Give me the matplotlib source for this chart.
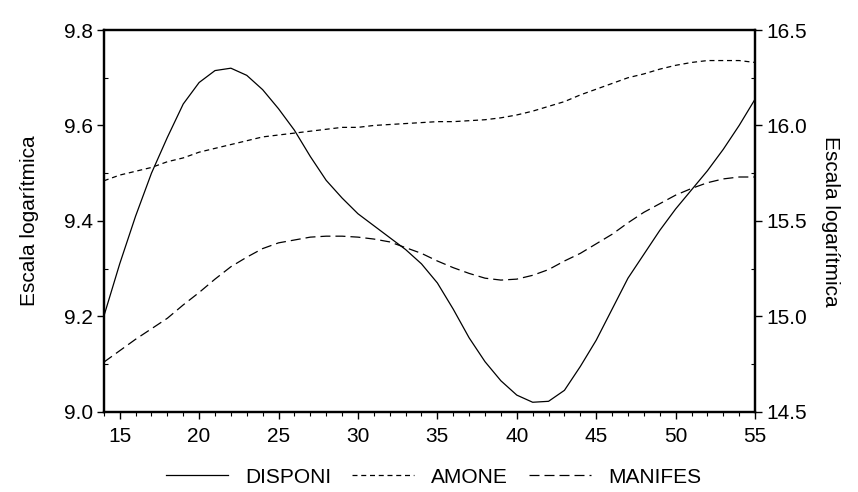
import matplotlib
matplotlib.use("Agg")
import matplotlib.pyplot as plt
from matplotlib.ticker import MultipleLocator

plt.rcParams['font.family'] = ['Liberation Sans', 'DejaVu Sans']

# edades (eje x)
edad = list(range(14, 56))

# DISPONI, eje izquierdo
disponi = [9.20, 9.31, 9.41, 9.50, 9.575, 9.645, 9.69, 9.715, 9.72, 9.705,
           9.675, 9.635, 9.59, 9.535, 9.485, 9.448, 9.415, 9.39, 9.365, 9.34,
           9.31, 9.27, 9.215, 9.155, 9.105, 9.065, 9.035, 9.02, 9.022, 9.045,
           9.095, 9.15, 9.215, 9.28, 9.33, 9.38, 9.425, 9.465, 9.505, 9.55,
           9.60, 9.655]

# AMONE, eje derecho
amone = [15.71, 15.74, 15.76, 15.78, 15.81, 15.83, 15.86, 15.88, 15.90, 15.92,
         15.94, 15.95, 15.96, 15.97, 15.98, 15.99, 15.99, 16.00, 16.005, 16.01,
         16.015, 16.02, 16.02, 16.025, 16.03, 16.04, 16.055, 16.075, 16.10, 16.125,
         16.16, 16.19, 16.22, 16.25, 16.27, 16.295, 16.315, 16.33, 16.34, 16.34,
         16.34, 16.33]

# MANIFES, eje derecho
manifes = [14.76, 14.82, 14.88, 14.935, 14.99, 15.06, 15.125, 15.195, 15.26, 15.31,
           15.355, 15.385, 15.40, 15.415, 15.42, 15.42, 15.415, 15.405, 15.39, 15.36,
           15.33, 15.29, 15.255, 15.225, 15.20, 15.19, 15.195, 15.215, 15.245, 15.29,
           15.33, 15.38, 15.43, 15.49, 15.545, 15.59, 15.635, 15.67, 15.70, 15.72,
           15.73, 15.73]

fs = 15

fig = plt.figure(figsize=(8.58, 4.92), dpi=100)
ax = fig.add_axes([0.121, 0.163, 0.759, 0.776])
ax2 = ax.twinx()

l1, = ax.plot(edad, disponi, color='black', lw=0.9, label='DISPONI')
l2, = ax2.plot(edad, amone, color='black', lw=0.9, linestyle=(0, (4, 3)), label='AMONE')
l3, = ax2.plot(edad, manifes, color='black', lw=0.9, linestyle=(0, (8, 4)), label='MANIFES')

ax.set_xlim(14, 55)
ax.set_ylim(9.0, 9.8)
ax2.set_ylim(14.5, 16.5)

ax.set_xticks([15, 20, 25, 30, 35, 40, 45, 50, 55])
ax.xaxis.set_minor_locator(MultipleLocator(1))
ax.set_yticks([9.0, 9.2, 9.4, 9.6, 9.8])
ax.yaxis.set_minor_locator(MultipleLocator(0.1))
ax2.set_yticks([14.5, 15.0, 15.5, 16.0, 16.5])
ax2.yaxis.set_minor_locator(MultipleLocator(0.25))

ax.yaxis.set_major_formatter(plt.FormatStrFormatter('%.1f'))
ax2.yaxis.set_major_formatter(plt.FormatStrFormatter('%.1f'))

for a in (ax, ax2):
    for s in a.spines.values():
        s.set_linewidth(1.6)
    a.tick_params(which='major', length=5, width=1, labelsize=fs, pad=3)
    a.tick_params(which='minor', length=3, width=0.8)
ax.tick_params(axis='x', which='major', pad=6)
ax.tick_params(axis='y', which='minor', direction='in')
ax2.tick_params(axis='y', which='minor', direction='in')

ax.set_ylabel('Escala logarítmica', fontsize=fs, labelpad=18)
ax2.set_ylabel('Escala logarítmica', fontsize=fs, rotation=270, labelpad=24)

fig.legend(handles=[l1, l2, l3], loc='center', bbox_to_anchor=(0.505, 0.03),
           ncol=3, frameon=False, fontsize=fs, handlelength=3.0,
           columnspacing=1.0, handletextpad=0.8)

fig.savefig('out.png', dpi=100)
